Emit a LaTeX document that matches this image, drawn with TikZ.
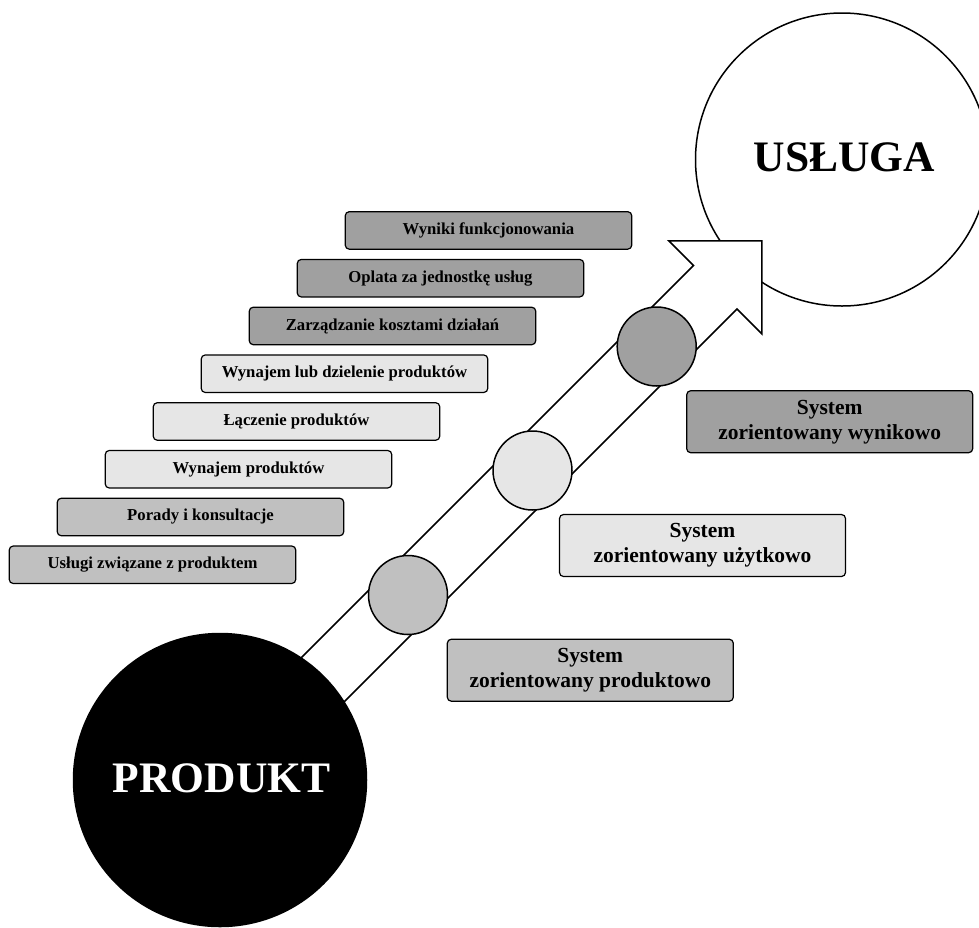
\documentclass[tikz,border=0pt]{standalone}
\usepackage{fontspec}
\setmainfont{Liberation Serif}
\definecolor{gmid}{HTML}{C0C0C0}
\definecolor{glight}{HTML}{E6E6E6}
\definecolor{gdark}{HTML}{A0A0A0}
\tikzset{
  lbox/.style={draw, rounded corners=4pt, line width=1.2pt, minimum width=286.5pt, minimum height=37.5pt, inner sep=0pt, font=\fontsize{16.7}{20}\selectfont\bfseries, align=center},
  rbox/.style={draw, rounded corners=4pt, line width=1.2pt, minimum width=286pt, minimum height=62pt, inner sep=0pt, font=\fontsize{21.5}{25}\selectfont\bfseries, align=center},
  dot/.style={circle, draw, line width=1.5pt, minimum size=79pt, inner sep=0pt},
  bigc/.style={circle, draw, line width=1.5pt, minimum size=293pt, inner sep=0pt, font=\fontsize{43.5}{50}\selectfont\bfseries},
  arrowbody/.style={draw, fill=white, line width=1.5pt, line join=miter}
}
\begin{document}
\begin{tikzpicture}[x=1pt, y=-1pt]
\useasboundingbox (0,0) rectangle (979,927);
% big target circle
\node[bigc, fill=white] (usl) at (842,159.5) {};
\node[font=\fontsize{43.5}{50}\selectfont\bfseries] (usltxt) at (844.5,157) {USŁUGA};
% arrow outline
\coordinate (s1) at (259.5,699.5);
\coordinate (n1) at (693.5,265.5);
\coordinate (a1) at (668.75,240.75);
\coordinate (tip) at (761.75,240.75);
\coordinate (a2) at (761.75,333.75);
\coordinate (n2) at (737,309);
\coordinate (s2) at (303,743);
\path[arrowbody] (s1) -- (n1) -- (a1) -- (tip) -- (a2) -- (n2) -- (s2) -- cycle;
% product circle
\node[bigc, fill=black, draw=black] (prod) at (220,780) {};
\node[font=\fontsize{43.5}{50}\selectfont\bfseries, text=white] (prodtxt) at (221.7,778.7) {PRODUKT};
% dots on the arrow
\node[dot, fill=gmid] (d1) at (408,595) {};
\node[dot, fill=glight] (d2) at (532.5,470.5) {};
\node[dot, fill=gdark] (d3) at (656.7,346.5) {};
% staircase boxes
\node[lbox, fill=gmid]   (b1) at (152.5,564.75) {Usługi związane z produktem};
\node[lbox, fill=gmid]   (b2) at (200.5,516.99) {Porady i konsultacje};
\node[lbox, fill=glight] (b3) at (248.5,469.23) {Wynajem produktów};
\node[lbox, fill=glight] (b4) at (296.5,421.47) {Łączenie produktów};
\node[lbox, fill=glight] (b5) at (344.5,373.71) {Wynajem lub dzielenie produktów};
\node[lbox, fill=gdark]  (b6) at (392.5,325.95) {Zarządzanie kosztami działań};
\node[lbox, fill=gdark]  (b7) at (440.5,278.19) {Oplata za jednostkę usług};
\node[lbox, fill=gdark]  (b8) at (488.5,230.43) {Wyniki funkcjonowania};
% system boxes
\node[rbox, fill=gmid]   (r1) at (590.3,670.2) {System\\zorientowany produktowo};
\node[rbox, fill=glight] (r2) at (702.5,545.5) {System\\zorientowany użytkowo};
\node[rbox, fill=gdark]  (r3) at (829.7,421.7) {System\\zorientowany wynikowo};
\end{tikzpicture}
\end{document}
